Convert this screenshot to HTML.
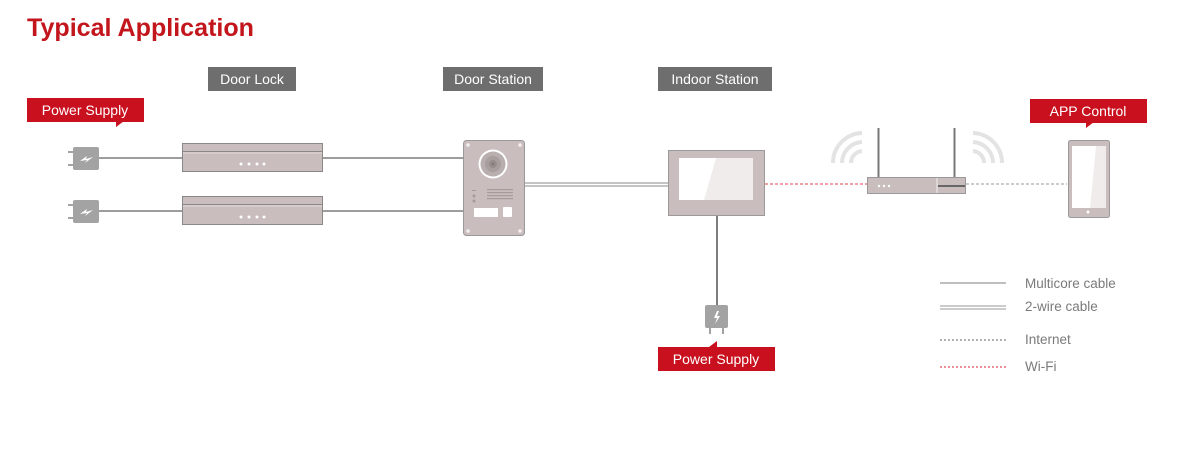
<!DOCTYPE html>
<html><head><meta charset="utf-8"><style>
html,body{margin:0;padding:0;background:#fff;}
svg{display:block;font-family:"Liberation Sans","DejaVu Sans",sans-serif;}
</style></head><body>
<svg width="1194" height="452" viewBox="0 0 1194 452" xmlns="http://www.w3.org/2000/svg">
<text x="27" y="36" font-size="25" font-weight="bold" fill="#c3161c" textLength="227" lengthAdjust="spacingAndGlyphs">Typical Application</text>

<!-- gray labels -->
<rect x="208" y="67" width="88" height="24" fill="#6e6e6e"/>
<text x="252" y="84" font-size="14" fill="#fff" text-anchor="middle">Door Lock</text>
<rect x="443" y="67" width="100" height="24" fill="#6e6e6e"/>
<text x="493" y="84" font-size="14" fill="#fff" text-anchor="middle">Door Station</text>
<rect x="658" y="67" width="114" height="24" fill="#6e6e6e"/>
<text x="715" y="84" font-size="14" fill="#fff" text-anchor="middle">Indoor Station</text>

<!-- red labels -->
<rect x="27" y="98" width="117" height="24" fill="#c8101e"/>
<polygon points="116,121 124,121 116,127" fill="#c8101e"/>
<text x="85" y="115" font-size="14" fill="#fff" text-anchor="middle">Power Supply</text>
<rect x="1030" y="99" width="117" height="24" fill="#c8101e"/>
<polygon points="1086,122 1094,122 1086,128" fill="#c8101e"/>
<text x="1088" y="116" font-size="14" fill="#fff" text-anchor="middle">APP Control</text>
<rect x="658" y="347" width="117" height="24" fill="#c8101e"/>
<polygon points="709,347 717,347 717,341" fill="#c8101e"/>
<text x="716" y="364" font-size="14" fill="#fff" text-anchor="middle">Power Supply</text>

<!-- plugs left -->
<g fill="#a3a3a3">
<rect x="73" y="147" width="26" height="23" rx="2"/>
<rect x="68" y="151" width="6" height="2"/><rect x="68" y="164" width="6" height="2"/>
<rect x="73" y="200" width="26" height="23" rx="2"/>
<rect x="68" y="204" width="6" height="2"/><rect x="68" y="217" width="6" height="2"/>
</g>
<path d="M80 161 L87 156 L86 159 L93 157 L85 163 L87 160 Z" fill="#fff"/>
<path d="M80 214 L87 209 L86 212 L93 210 L85 216 L87 213 Z" fill="#fff"/>

<!-- multicore lines -->
<g stroke="#7d7d7d" stroke-width="1.5">
<line x1="99" y1="158" x2="182" y2="158"/>
<line x1="99" y1="211" x2="182" y2="211"/>
<line x1="323" y1="158" x2="463" y2="158"/>
<line x1="323" y1="211" x2="463" y2="211"/>
<line x1="717" y1="215" x2="717" y2="305" stroke-width="2"/>
</g>
<!-- 2-wire -->
<line x1="525" y1="183" x2="668" y2="183" stroke="#8a8a8a" stroke-width="1"/>
<line x1="525" y1="186" x2="668" y2="186" stroke="#8a8a8a" stroke-width="1"/>

<!-- door locks -->
<g>
<rect x="182.5" y="143.5" width="140" height="28" fill="#c9bdbd" stroke="#888" stroke-width="1"/>
<line x1="183" y1="151.5" x2="322" y2="151.5" stroke="#888"/>
<line x1="183" y1="153" x2="322" y2="153" stroke="#e4dcdc"/>
<rect x="182.5" y="196.5" width="140" height="28" fill="#c9bdbd" stroke="#888" stroke-width="1"/>
<line x1="183" y1="204.5" x2="322" y2="204.5" stroke="#888"/>
<line x1="183" y1="206" x2="322" y2="206" stroke="#e4dcdc"/>
<g fill="#fff"><circle cx="241" cy="164" r="1.5"/><circle cx="249" cy="164" r="1.5"/><circle cx="257" cy="164" r="1.5"/><circle cx="264" cy="164" r="1.5"/>
<circle cx="241" cy="217" r="1.5"/><circle cx="249" cy="217" r="1.5"/><circle cx="257" cy="217" r="1.5"/><circle cx="264" cy="217" r="1.5"/></g>
</g>

<!-- door station -->
<rect x="463.5" y="140.5" width="61" height="95" rx="3" fill="#c9bdbd" stroke="#999"/>
<g fill="#f3eeee"><circle cx="468" cy="145" r="1.8"/><circle cx="520" cy="145" r="1.8"/><circle cx="468" cy="231" r="1.8"/><circle cx="520" cy="231" r="1.8"/></g>
<circle cx="493" cy="164" r="14.5" fill="#fff"/>
<circle cx="493" cy="164" r="12.5" fill="#b8aeae"/>
<circle cx="493" cy="164" r="8" fill="#a89e9e"/>
<circle cx="493" cy="164" r="4" fill="#978d8d"/>
<circle cx="493" cy="164" r="1.5" fill="#857b7b"/>
<g fill="#a59b9b">
<rect x="487" y="189" width="26" height="1.2"/><rect x="487" y="192" width="26" height="1.2"/><rect x="487" y="195" width="26" height="1.2"/><rect x="487" y="198" width="26" height="1.2"/>
<circle cx="474" cy="196" r="1.5"/><circle cx="474" cy="201" r="1.5"/><rect x="472" y="190" width="4" height="1"/>
</g>
<rect x="474" y="208" width="24" height="9" fill="#fff"/>
<rect x="503" y="207" width="9" height="10" rx="1" fill="#fff"/>

<!-- indoor station -->
<rect x="668.5" y="150.5" width="96" height="65" fill="#c9bdbd" stroke="#999"/>
<rect x="679" y="158" width="74" height="42" fill="#fff"/>
<polygon points="716,158 753,158 753,200 704,200" fill="#f0ecec"/>

<!-- plug bottom -->
<rect x="705" y="305" width="23" height="23" rx="2" fill="#a3a3a3"/>
<rect x="709" y="328" width="2" height="6" fill="#a3a3a3"/><rect x="722" y="328" width="2" height="6" fill="#a3a3a3"/>
<path d="M717 311 L714 318 L717 318 L715 324 L720 316 L717 316 L719 311 Z" fill="#fff"/>

<!-- wifi dashed -->
<line x1="765" y1="184" x2="867" y2="184" stroke="#e0414b" stroke-width="1" stroke-dasharray="3 2"/>
<line x1="966" y1="184" x2="1067" y2="184" stroke="#999" stroke-width="1" stroke-dasharray="3 2"/>

<!-- router -->
<line x1="878.5" y1="128" x2="878.5" y2="178" stroke="#777" stroke-width="2"/>
<line x1="954.5" y1="128" x2="954.5" y2="178" stroke="#777" stroke-width="2"/>
<rect x="867.5" y="177.5" width="98" height="16" fill="#c9bdbd" stroke="#999"/>
<line x1="937" y1="178" x2="937" y2="193" stroke="#eee"/>
<line x1="938" y1="186" x2="965" y2="186" stroke="#666" stroke-width="2"/>
<g fill="#fff"><circle cx="879" cy="186" r="1.2"/><circle cx="884" cy="186" r="1.2"/><circle cx="889" cy="186" r="1.2"/></g>
<g fill="none" stroke="#e3e3e3" stroke-width="4">
<path d="M833 163 A30 30 0 0 1 862 133"/>
<path d="M842 163 A21 21 0 0 1 862 142"/>
<path d="M851 163 A12 12 0 0 1 862 151"/>
<path d="M1002 163 A30 30 0 0 0 973 133"/>
<path d="M993 163 A21 21 0 0 0 973 142"/>
<path d="M984 163 A12 12 0 0 0 973 151"/>
</g>

<!-- phone -->
<rect x="1068.5" y="140.5" width="41" height="77" rx="2" fill="#c9bdbd" stroke="#999"/>
<rect x="1072" y="146" width="34" height="62" fill="#fff"/>
<polygon points="1096,146 1106,146 1106,208 1090,208" fill="#f0ecec"/>
<circle cx="1088" cy="212" r="1.5" fill="#fff"/>

<!-- legend -->
<line x1="940" y1="283" x2="1006" y2="283" stroke="#999" stroke-width="1.2"/>
<line x1="940" y1="306" x2="1006" y2="306" stroke="#999" stroke-width="1"/>
<line x1="940" y1="309" x2="1006" y2="309" stroke="#999" stroke-width="1"/>
<line x1="940" y1="340" x2="1006" y2="340" stroke="#666" stroke-width="1" stroke-dasharray="2 2"/>
<line x1="940" y1="367" x2="1006" y2="367" stroke="#d8232f" stroke-width="1" stroke-dasharray="2 2"/>
<g font-size="13.5" fill="#7a7a7a">
<text x="1025" y="288">Multicore cable</text>
<text x="1025" y="311">2-wire cable</text>
<text x="1025" y="344">Internet</text>
<text x="1025" y="371">Wi-Fi</text>
</g>
</svg>
</body></html>
